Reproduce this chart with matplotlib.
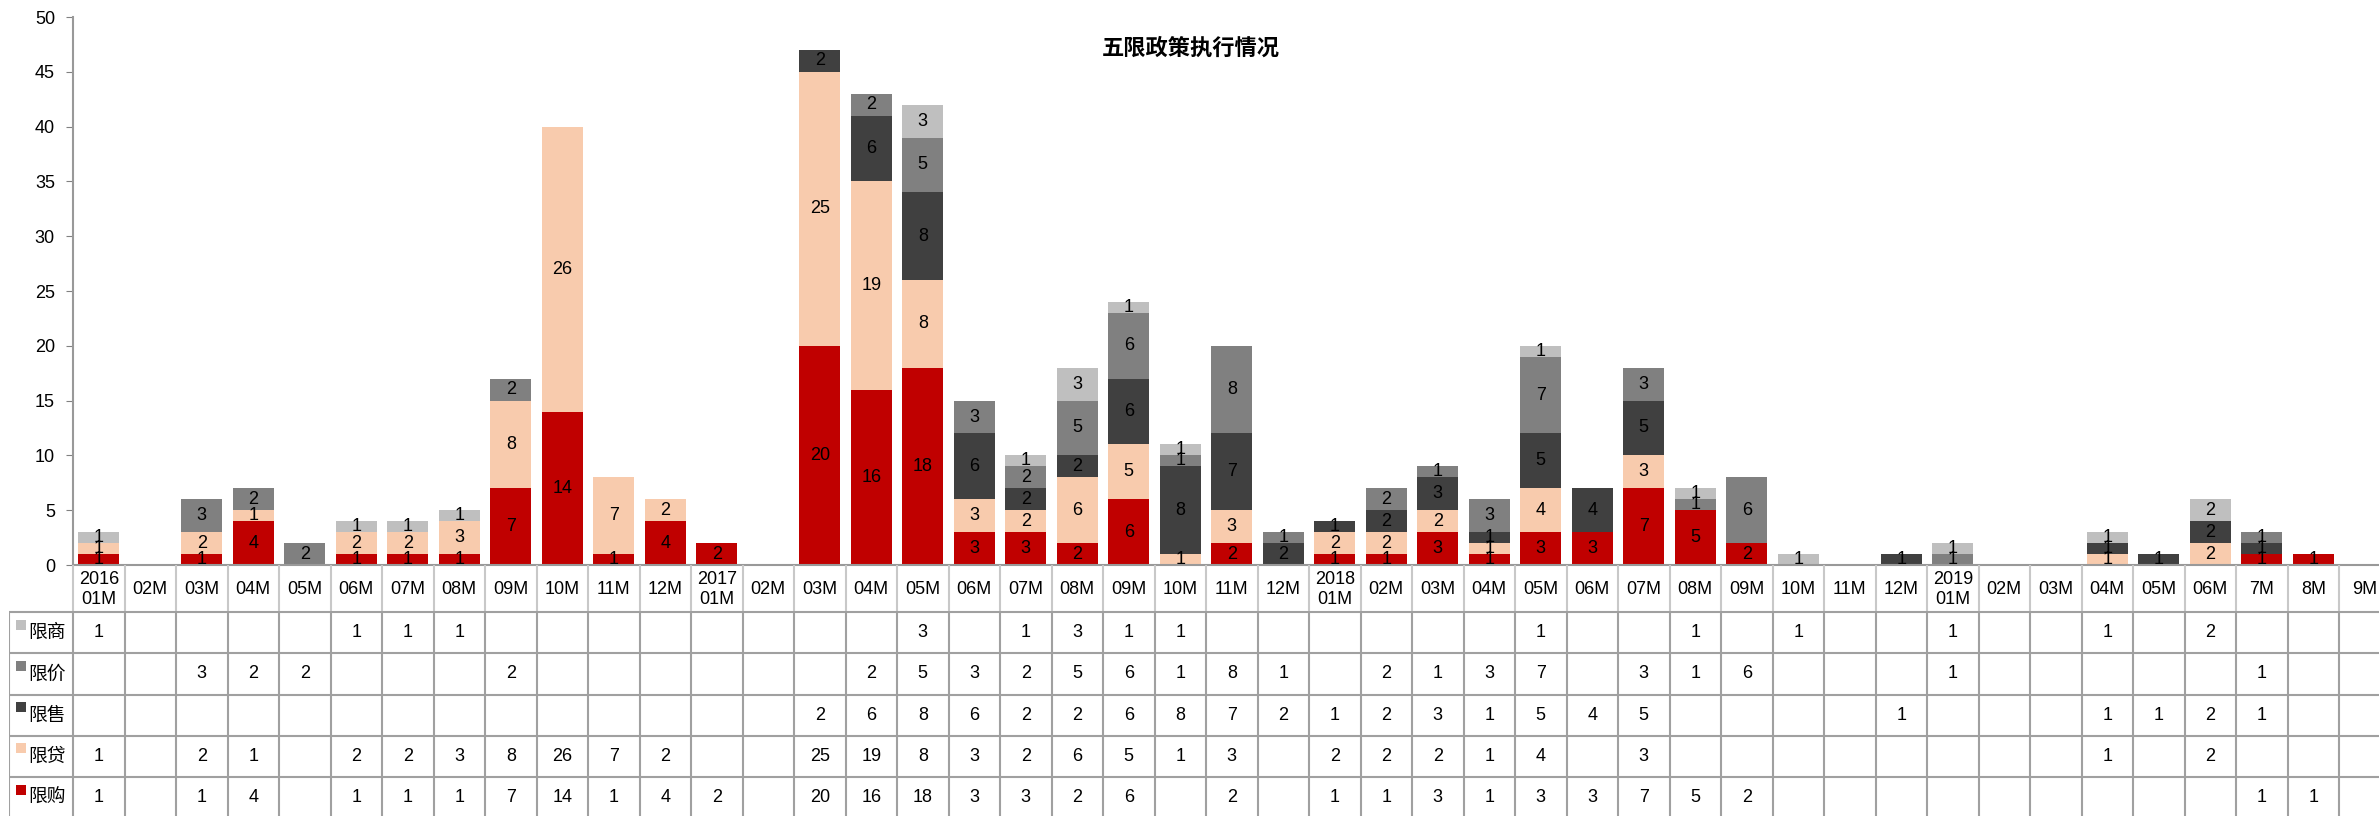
import matplotlib
matplotlib.use("Agg")
import matplotlib.pyplot as plt
import numpy as np

plt.rcParams['font.family'] = ['Liberation Sans', 'Noto Sans CJK SC']

# months, 2016-01 .. 2019-09
months = ["2016\n01M", "02M", "03M", "04M", "05M", "06M", "07M", "08M", "09M", "10M", "11M", "12M",
          "2017\n01M", "02M", "03M", "04M", "05M", "06M", "07M", "08M", "09M", "10M", "11M", "12M",
          "2018\n01M", "02M", "03M", "04M", "05M", "06M", "07M", "08M", "09M", "10M", "11M", "12M",
          "2019\n01M", "02M", "03M", "04M", "05M", "06M", "7M", "8M", "9M"]

# policy counts per month (0 = none)
xiangou = [1, 0, 1, 4, 0, 1, 1, 1, 7, 14, 1, 4,
           2, 0, 20, 16, 18, 3, 3, 2, 6, 0, 2, 0,
           1, 1, 3, 1, 3, 3, 7, 5, 2, 0, 0, 0,
           0, 0, 0, 0, 0, 0, 1, 1, 0]
xiandai = [1, 0, 2, 1, 0, 2, 2, 3, 8, 26, 7, 2,
           0, 0, 25, 19, 8, 3, 2, 6, 5, 1, 3, 0,
           2, 2, 2, 1, 4, 0, 3, 0, 0, 0, 0, 0,
           0, 0, 0, 1, 0, 2, 0, 0, 0]
xianshou = [0, 0, 0, 0, 0, 0, 0, 0, 0, 0, 0, 0,
            0, 0, 2, 6, 8, 6, 2, 2, 6, 8, 7, 2,
            1, 2, 3, 1, 5, 4, 5, 0, 0, 0, 0, 1,
            0, 0, 0, 1, 1, 2, 1, 0, 0]
xianjia = [0, 0, 3, 2, 2, 0, 0, 0, 2, 0, 0, 0,
           0, 0, 0, 2, 5, 3, 2, 5, 6, 1, 8, 1,
           0, 2, 1, 3, 7, 0, 3, 1, 6, 0, 0, 0,
           1, 0, 0, 0, 0, 0, 1, 0, 0]
xianshang = [1, 0, 0, 0, 0, 1, 1, 1, 0, 0, 0, 0,
             0, 0, 0, 0, 3, 0, 1, 3, 1, 1, 0, 0,
             0, 0, 0, 0, 1, 0, 0, 1, 0, 1, 0, 0,
             1, 0, 0, 1, 0, 2, 0, 0, 0]

# bottom-to-top stacking order
series = [("限购", xiangou, "#C00000"),
          ("限贷", xiandai, "#F8CBAD"),
          ("限售", xianshou, "#404040"),
          ("限价", xianjia, "#808080"),
          ("限商", xianshang, "#BFBFBF")]

W, H = 2379, 816
fig = plt.figure(figsize=(W / 100, H / 100), dpi=100)

n = len(months)
colw = 51.5
x0_px, y0_px, ytop_px = 73, 565, 17
ax = fig.add_axes([x0_px / W, (H - y0_px) / H, n * colw / W, (y0_px - ytop_px) / H])

x = np.arange(n)
bottom = np.zeros(n)
for name, vals, color in series:
    vals = np.array(vals, dtype=float)
    ax.bar(x, vals, width=0.8, bottom=bottom, color=color, linewidth=0)
    for xi, b, v in zip(x, bottom, vals):
        if v > 0:
            ax.text(xi, b + v / 2, f"{int(v)}", ha="center", va="center",
                    fontsize=13, color="black")
    bottom += vals

ax.set_xlim(-0.5, n - 0.5)
ax.set_ylim(0, 50)
ax.set_yticks(np.arange(0, 51, 5))
ax.set_xticks([])
ax.tick_params(axis="y", length=5, color="#808080", pad=8, labelsize=13)
for s in ["top", "right"]:
    ax.spines[s].set_visible(False)
for s in ["left", "bottom"]:
    ax.spines[s].set_color("#999999")
    ax.spines[s].set_linewidth(1.5)

fig.text(1191 / W, 1 - 49 / H, "五限政策执行情况", ha="center", va="center",
         fontsize=16, fontweight="bold")

# data table under the bars, drawn in pixel rows
tleft_px = 9
row_top = 612
row_h = 41.25
t_bottom = row_top + 5 * row_h
tab = fig.add_axes([tleft_px / W, (H - t_bottom) / H,
                    (n * colw + x0_px - tleft_px) / W, (t_bottom - y0_px) / H])
xl = -0.5 - (x0_px - tleft_px) / colw
tab.set_xlim(xl, n - 0.5)
tab.set_ylim(t_bottom, y0_px)
tab.axis("off")

line_c = "#a0a0a0"
edges = np.arange(n + 1) - 0.5
tab.vlines(edges, y0_px, row_top, color="#c8c8c8", linewidth=1.5)
tab.vlines(np.append(edges, xl), row_top, t_bottom, color=line_c, linewidth=1.5)
tab.hlines([row_top + k * row_h for k in range(5)], xl, n - 0.5, color=line_c, linewidth=1.5)

for xi, m in enumerate(months):
    tab.text(xi, (y0_px + row_top) / 2 + 1, m, ha="center", va="center",
             fontsize=13, linespacing=1.25)

def px_to_x(px):
    return -0.5 + (px - x0_px) / colw

for r, (name, vals, color) in enumerate(series[::-1]):
    yc = row_top + (r + 0.5) * row_h
    tab.scatter([px_to_x(21)], [yc - 8], marker="s", s=52, color=color, linewidths=0)
    tab.text(px_to_x(28), yc + 1, name, ha="left", va="center", fontsize=13.5)
    for xi, v in enumerate(vals):
        if v > 0:
            tab.text(xi, yc, f"{v}", ha="center", va="center", fontsize=13)

fig.savefig("out.png", dpi=100)
